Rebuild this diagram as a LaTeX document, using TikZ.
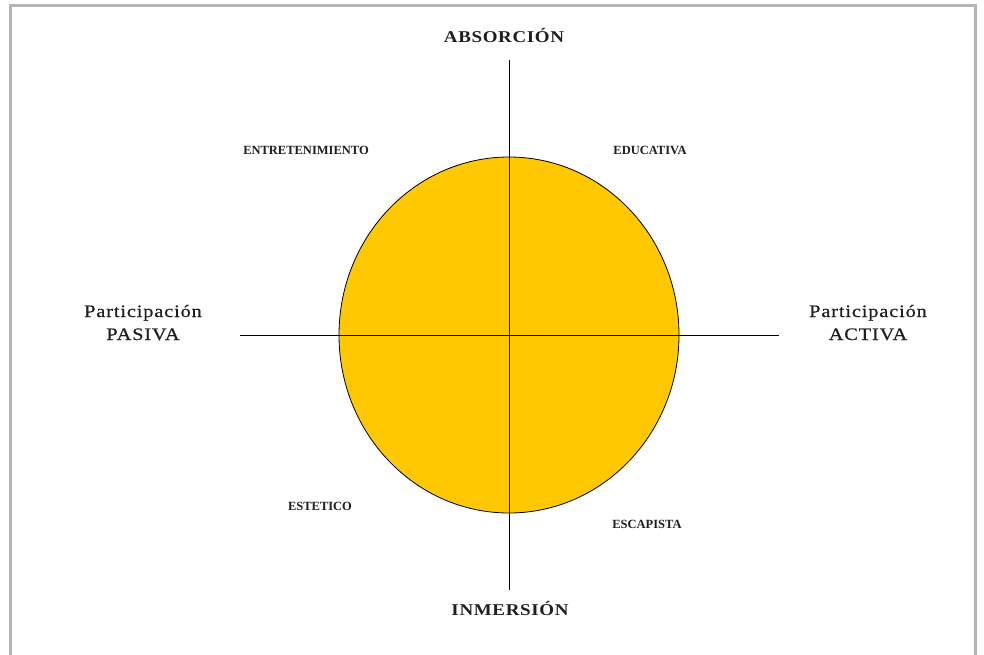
\documentclass[tikz,border=0pt]{standalone}
\usepackage{fontspec}
\setmainfont{Liberation Serif}
\newfontfamily\axisfont[FakeStretch=1.15,LetterSpace=4]{Liberation Serif}
\newfontfamily\widefont[FakeStretch=1.16,FakeBold=0.6,LetterSpace=5]{Liberation Serif}
\newfontfamily\quadfont{Liberation Serif}
\definecolor{gold}{RGB}{255,200,0}
\definecolor{frame}{RGB}{180,180,180}
\definecolor{ink}{RGB}{30,30,30}
\begin{document}
\begin{tikzpicture}[x=1pt,y=-1pt,
  axislabel/.style={font=\axisfont\fontsize{16.5}{18}\selectfont\bfseries, text=ink, inner sep=0pt, anchor=base},
  sidelabel/.style={font=\widefont\fontsize{17.5}{23}\selectfont, text=ink, align=center, inner sep=0pt, anchor=base},
  quadlabel/.style={font=\quadfont\fontsize{12.5}{14}\selectfont\bfseries, text=ink, inner sep=0pt},
  axis/.style={draw=black, line width=1pt}]
\useasboundingbox (0,0) rectangle (984,655);
\fill[white] (0,0) rectangle (984,655);
\draw[frame, line width=3pt] (10,655) -- (10,6) -- (975,6) -- (975,655);
\coordinate (c) at (509,335);
\fill[gold, draw=black, line width=0.8pt] (c) ellipse [x radius=170, y radius=178];
\coordinate (top) at (509,60);
\coordinate (bot) at (509,590);
\coordinate (lft) at (240,335);
\coordinate (rgt) at (779,335);
\draw[axis] (top) -- (bot);
\draw[axis] (lft) -- (rgt);
\node[axislabel] (abs) at (504,43) {ABSORCIÓN};
\node[axislabel] (inm) at (510,615) {INMERSIÓN};
\node[sidelabel] (pas1) at (143,317) {Participación};
\node[sidelabel] (pas2) at (143,340) {PASIVA};
\node[sidelabel] (act1) at (868,317) {Participación};
\node[sidelabel] (act2) at (868,340) {ACTIVA};
\node[quadlabel] (ent) at (306,150) {ENTRETENIMIENTO};
\node[quadlabel] (edu) at (650,150) {EDUCATIVA};
\node[quadlabel] (est) at (320,506) {ESTETICO};
\node[quadlabel] (esc) at (647,524) {ESCAPISTA};
\end{tikzpicture}
\end{document}
